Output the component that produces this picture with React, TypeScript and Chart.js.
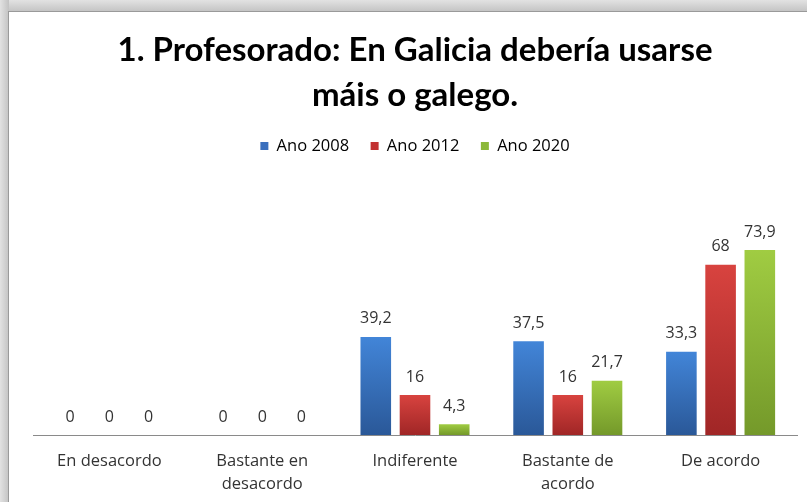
import React, { useEffect, useRef } from "react";
import { Chart, registerables } from "chart.js";

Chart.register(...registerables);

const titleLines = ["1. Profesorado: En Galicia debería usarse", "máis o galego."];
const categories = [["En desacordo"], ["Bastante en", "desacordo"], ["Indiferente"], ["Bastante de", "acordo"], ["De acordo"]];
const seriesNames = ["Ano 2008", "Ano 2012", "Ano 2020"];
const values2008 = [0, 0, 39.2, 37.5, 33.3];
const values2012 = [0, 0, 16, 16, 68];
const values2020 = [0, 0, 4.3, 21.7, 73.9];
const solidColors = ["#3a6fbd", "#c23232", "#8cb83a"];
const topColors = ["#4285d8", "#d8433f", "#a0cc42"];
const bottomColors = ["#2a5898", "#a02626", "#74992a"];

const SMALL_FONT = '"Open Sans", Lato, sans-serif';
const fmt = (v: number) => String(v).replace(".", ",");

const gradientFor = (i: number) => (ctx: any) => {
  const chart = ctx.chart;
  const y = chart.scales && chart.scales.y;
  if (ctx.type !== "data" || !y || !chart.chartArea) return solidColors[i];
  const v = ctx.raw as number;
  const top = y.getPixelForValue(v);
  const bottom = y.getPixelForValue(0);
  if (!isFinite(top) || !isFinite(bottom) || bottom - top < 1) return solidColors[i];
  const g = chart.ctx.createLinearGradient(0, top, 0, bottom);
  g.addColorStop(0, topColors[i]);
  g.addColorStop(1, bottomColors[i]);
  return g;
};

const framePlugin = {
  id: "frame",
  beforeDraw(chart: any) {
    const { ctx, width, height } = chart;
    ctx.save();
    ctx.fillStyle = "#ffffff";
    ctx.fillRect(0, 0, width, height);
    const gTop = ctx.createLinearGradient(0, 0, 0, 12);
    gTop.addColorStop(0, "#e2e2e2");
    gTop.addColorStop(1, "#c2c2c2");
    ctx.fillStyle = gTop;
    ctx.fillRect(0, 0, width, 12);
    const gLeft = ctx.createLinearGradient(0, 0, 9, 0);
    gLeft.addColorStop(0, "#e2e2e2");
    gLeft.addColorStop(1, "#c2c2c2");
    ctx.fillStyle = gLeft;
    ctx.fillRect(0, 0, 9, height);
    ctx.fillStyle = "#9a9a9a";
    ctx.fillRect(8, 11, width - 8, 1);
    ctx.fillRect(8, 11, 1, height - 11);
    ctx.restore();
  },
};

const labelPlugin = {
  id: "valueLabels",
  afterDatasetsDraw(chart: any) {
    const { ctx } = chart;
    ctx.save();
    ctx.font = "16px " + SMALL_FONT;
    ctx.fillStyle = "#333333";
    ctx.textAlign = "center";
    ctx.textBaseline = "middle";
    chart.data.datasets.forEach((ds: any, di: number) => {
      const meta = chart.getDatasetMeta(di);
      meta.data.forEach((el: any, idx: number) => {
        ctx.fillText(fmt(ds.data[idx]), el.x, el.y - 18);
      });
    });
    ctx.restore();
  },
};

export default function App() {
  const ref = useRef<HTMLCanvasElement>(null);
  useEffect(() => {
    if (!ref.current) return;
    const chart = new Chart(ref.current, {
      type: "bar",
      data: {
        labels: categories as any,
        datasets: [values2008, values2012, values2020].map((d, i) => ({
          label: seriesNames[i],
          data: d,
          backgroundColor: gradientFor(i) as any,
          borderWidth: 0,
          categoryPercentage: 0.77,
          barPercentage: 0.78,
        })),
      },
      options: {
        animation: false,
        responsive: false,
        layout: { padding: { top: 12, left: 33, right: 10, bottom: 0 } },
        plugins: {
          tooltip: { enabled: false },
          title: {
            display: true,
            text: titleLines,
            color: "#000000",
            font: { family: "Lato, sans-serif", size: 33, weight: "bold", lineHeight: 45 / 33 },
            padding: { top: 15.5, bottom: -1.25 },
          },
          legend: {
            display: true,
            position: "top",
            labels: {
              boxWidth: 8,
              boxHeight: 8,
              padding: 21.5,
              color: "#222222",
              font: { family: SMALL_FONT, size: 16.5 },
              generateLabels: () =>
                seriesNames.map((n, i) => ({
                  text: n,
                  fillStyle: solidColors[i],
                  strokeStyle: solidColors[i],
                  lineWidth: 0,
                  datasetIndex: i,
                  hidden: false,
                })),
            },
          },
        },
        scales: {
          x: {
            grid: { display: false, drawTicks: false },
            border: { display: true, color: "#8a8a8a", width: 1 },
            ticks: {
              color: "#333333",
              font: { family: SMALL_FONT, size: 16.5, lineHeight: 23 / 16.5 },
              padding: 15,
              maxRotation: 0,
            },
            afterFit: (s: any) => {
              s.height = 67;
            },
          },
          y: { display: false, min: 0, max: 108.2 },
        },
      },
      plugins: [framePlugin, labelPlugin],
    });
    return () => chart.destroy();
  }, []);
  return (
    <div style={{ position: "fixed", left: 0, top: 0, width: 807, height: 502 }}>
      <canvas ref={ref} width={807} height={502} style={{ display: "block", width: 807, height: 502 }} />
    </div>
  );
}
